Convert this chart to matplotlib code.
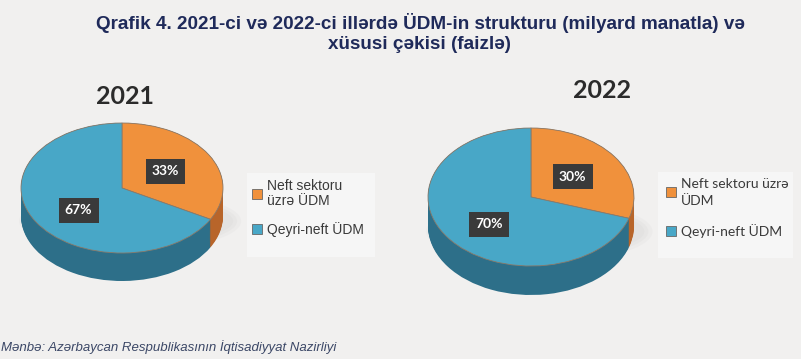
import matplotlib
matplotlib.use("Agg")
import matplotlib.pyplot as plt
import numpy as np
from matplotlib.patches import Ellipse, Rectangle

# ---- data ----
years = ["2021", "2022"]
categories_2021 = ["Neft sektoru\nüzrə ÜDM", "Qeyri-neft ÜDM"]
categories_2022 = ["Neft sektoru üzrə\nÜDM", "Qeyri-neft ÜDM"]
values_2021 = [33, 67]
values_2022 = [30, 70]
title = "Qrafik 4. 2021-ci və 2022-ci illərdə ÜDM-in strukturu (milyard manatla) və\nxüsusi çəkisi (faizlə)"
source = "Mənbə: Azərbaycan Respublikasının İqtisadiyyat Nazirliyi"

top_colors = ["#f0913c", "#48a7c7"]
side_colors = ["#b8652a", "#2d6f89"]
bg = "#f1f0ef"

W, H = 801, 359
fig = plt.figure(figsize=(W / 100, H / 100), dpi=100, facecolor=bg)


def pie3d(cx, cy, rx, ry, depth_px, values, labels, year, year_xy, legend_box,
          legend_font, text_anchor, linesp, labelsp):
    xl, xr = -1.35, 1.35
    yb, yt = -1.0 - depth_px / ry - 0.35, 1.3
    left = cx + xl * rx
    bottom = (H - cy) + yb * ry
    width = (xr - xl) * rx
    height = (yt - yb) * ry
    ax = fig.add_axes([left / W, bottom / H, width / W, height / H])
    ax.set_facecolor("none")
    d = depth_px / ry
    for i, a in enumerate([0.05, 0.05, 0.05]):
        ax.add_patch(Ellipse((0.08, -d - 0.08), 2.2 - i * 0.08, 0.9 - i * 0.1,
                             facecolor="#9a9a9a", edgecolor="none", alpha=a))
    for k in np.linspace(d, 0.0, 30):
        ax.pie(values, colors=side_colors, startangle=90, counterclock=False,
               center=(0, -k), radius=1.0,
               wedgeprops=dict(linewidth=0, edgecolor="none"))
    wedges, texts, autotexts = ax.pie(
        values, colors=top_colors, startangle=90, counterclock=False,
        center=(0, 0), radius=1.0, autopct="%d%%", pctdistance=0.5,
        wedgeprops=dict(linewidth=0.6, edgecolor="#8a7a6a"),
        textprops=dict(color="white", fontsize=10, fontweight="bold",
                       family="Lato"))
    for t in autotexts:
        t.set_bbox(dict(facecolor="#3a3a3a", edgecolor="none",
                        boxstyle="square,pad=0.45"))
    px, py = autotexts[1].get_position()
    autotexts[1].set_position((px, py * 1.35))
    ax.set_aspect("auto")
    ax.set_xlim(xl, xr)
    ax.set_ylim(yb, yt)
    ax.axis("off")

    fig.text(year_xy[0] / W, 1 - year_xy[1] / H, year, ha="center", va="center",
             fontsize=18, fontweight="bold", family="Lato", color="#2b2b2b")

    lx0, ly0, lx1, ly1 = legend_box
    fig.patches.append(Rectangle((lx0 / W, 1 - ly1 / H), (lx1 - lx0) / W,
                                 (ly1 - ly0) / H, transform=fig.transFigure,
                                 facecolor="#f6f6f6", edgecolor="none",
                                 zorder=0))
    leg = fig.legend(wedges, labels, loc="upper left",
                     bbox_to_anchor=(text_anchor[0] / W, 1 - text_anchor[1] / H),
                     bbox_transform=fig.transFigure,
                     prop=dict(family=legend_font, size=10),
                     frameon=False,
                     handlelength=0.75, handleheight=0.75, handletextpad=0.3,
                     labelspacing=labelsp, borderpad=0, borderaxespad=0)
    for t in leg.get_texts():
        t.set_color("#3a3a3a")
        t.set_linespacing(linesp)
    for h in leg.legend_handles:
        h.set_edgecolor("#666666")
        h.set_linewidth(0.6)
    return ax


pie3d(122, 188, 101, 65, 28, values_2021, categories_2021, years[0], (125, 97),
      (247, 173, 375, 257), "Liberation Sans", (252, 179), 1.1, 1.0)
pie3d(531, 197, 103, 69, 29, values_2022, categories_2022, years[1], (602, 90),
      (658, 172, 793, 258), "Lato", (666, 178), 1.45, 1.25)

fig.text(420 / W, 1 - 33 / H, title, ha="center", va="center", fontsize=13.6,
         fontweight="bold", family="Liberation Sans", color="#1f2a5a",
         linespacing=1.2)
fig.text(1 / W, 1 - 347 / H, source, ha="left", va="center", fontsize=9.5,
         style="italic", family="Liberation Sans", color="#3b4766")

fig.savefig("out.png", dpi=100, facecolor=bg)
